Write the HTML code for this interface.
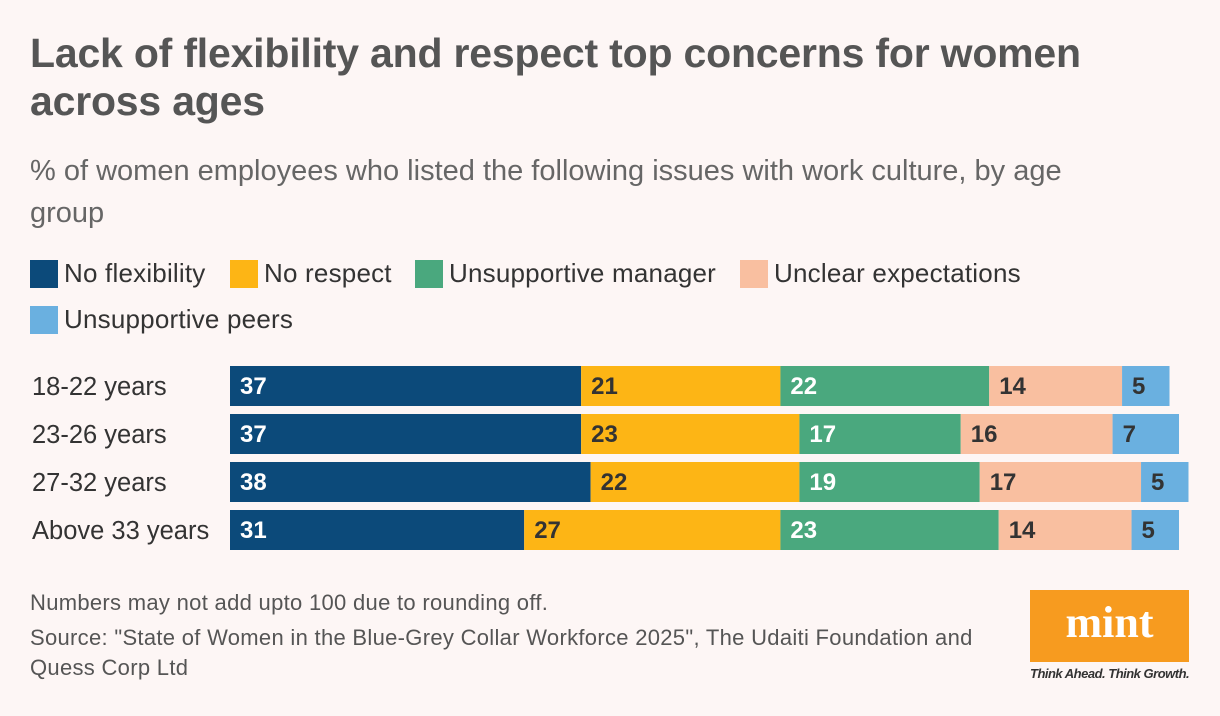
<!DOCTYPE html>
<html><head><meta charset="utf-8"><style>
body{margin:0;width:1220px;height:716px;background:#fdf6f5;font-family:"Liberation Sans",sans-serif;position:relative;overflow:hidden;color:#333}
.t{position:absolute;left:30px;top:29px;font-size:41px;font-weight:bold;color:#555;line-height:48px;width:1130px;letter-spacing:-0.2px}
.s{position:absolute;left:30px;top:150px;font-size:29px;color:#666;line-height:42px;width:1100px}
.lg{position:absolute;font-size:26px;color:#333;display:flex;align-items:center;letter-spacing:0.2px}
.lg span{display:inline-block;width:28px;height:28px;margin-right:6px}
.n{position:absolute;left:30px;font-size:22px;color:#555;line-height:30px;letter-spacing:0.3px}
</style></head><body>
<div class="t">Lack of flexibility and respect top concerns for women across ages</div>
<div class="s">% of women employees who listed the following issues with work culture, by age group</div>
<div class="lg" style="left:30px;top:258px"><span style="background:#0c4a7a"></span>No flexibility</div>
<div class="lg" style="left:230px;top:258px"><span style="background:#fdb515"></span>No respect</div>
<div class="lg" style="left:415px;top:258px"><span style="background:#4aa87e"></span>Unsupportive manager</div>
<div class="lg" style="left:740px;top:258px"><span style="background:#f9bfa0"></span>Unclear expectations</div>
<div class="lg" style="left:30px;top:304px"><span style="background:#6ab0e0"></span>Unsupportive peers</div>
<svg id="c" width="1220" height="716" style="position:absolute;left:0;top:0"></svg>
<div class="n" style="top:588px">Numbers may not add upto 100 due to rounding off.</div>
<div class="n" style="top:623px;width:960px">Source: "State of Women in the Blue-Grey Collar Workforce 2025", The Udaiti Foundation and Quess Corp Ltd</div>
<div style="position:absolute;left:1030px;top:590px;width:159px;height:72px;background:#f79b1f;color:#fff;font-family:'Liberation Serif',serif;font-weight:bold;font-size:44px;text-align:center;line-height:66px">mint</div>
<div style="position:absolute;left:1030px;top:666px;font-size:13px;font-style:italic;font-weight:bold;color:#333;letter-spacing:-0.5px">Think Ahead. Think Growth.</div>
<script>
const categories=["18-22 years","23-26 years","27-32 years","Above 33 years"];
const noFlexibility=[37,37,38,31];
const noRespect=[21,23,22,27];
const unsupportiveManager=[22,17,19,23];
const unclearExpectations=[14,16,17,14];
const unsupportivePeers=[5,7,5,5];
const series=[noFlexibility,noRespect,unsupportiveManager,unclearExpectations,unsupportivePeers];
const seriesNames=["no-flexibility","no-respect","unsupportive-manager","unclear-expectations","unsupportive-peers"];
const colors=["#0c4a7a","#fdb515","#4aa87e","#f9bfa0","#6ab0e0"];
const textColors=["#fff","#333","#fff","#333","#333"];
const svg=document.getElementById('c');const NS="http://www.w3.org/2000/svg";
const x=v=>230+v*9.49;const y=i=>366+i*48;const bh=40;
categories.forEach((c,i)=>{
 const t=document.createElementNS(NS,'text');t.setAttribute('x',32);t.setAttribute('y',y(i)+29);
 t.setAttribute('font-size','25.5');t.setAttribute('fill','#333');t.textContent=c;
 
 
 svg.appendChild(t);
 let acc=0;
 series.forEach((s,k)=>{
  const v=s[i];const r=document.createElementNS(NS,'rect');
  r.setAttribute('x',x(acc));r.setAttribute('y',y(i));r.setAttribute('width',x(acc+v)-x(acc));r.setAttribute('height',bh);r.setAttribute('fill',colors[k]);
  
  
  svg.appendChild(r);
  const l=document.createElementNS(NS,'text');l.setAttribute('x',x(acc)+10);l.setAttribute('y',y(i)+28);
  l.setAttribute('font-size','24');l.setAttribute('font-weight','bold');l.setAttribute('fill',textColors[k]);l.textContent=v;
  
  
  svg.appendChild(l);
  acc+=v;
 });
});
</script>
</body></html>
